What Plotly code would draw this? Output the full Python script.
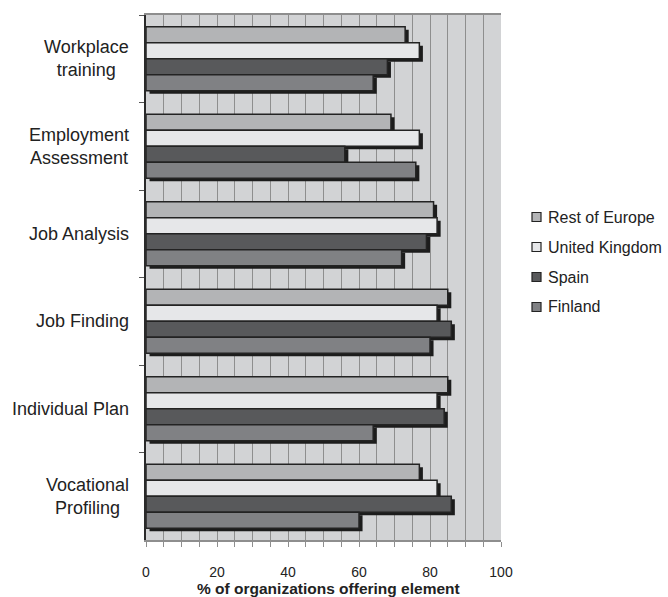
import plotly.graph_objects as go

# Survey results: share of organizations offering each element (%)
categories = [
    "Workplace training",
    "Employment Assessment",
    "Job Analysis",
    "Job Finding",
    "Individual Plan",
    "Vocational Profiling",
]
category_labels = [
    "Workplace<br>training",
    "Employment<br>Assessment",
    "Job Analysis",
    "Job Finding",
    "Individual Plan",
    "Vocational<br>Profiling",
]
series_names = ["Rest of Europe", "United Kingdom", "Spain", "Finland"]
rest_of_europe = [73, 69, 81, 85, 85, 77]
united_kingdom = [77, 77, 82, 82, 82, 82]
spain = [68, 56, 79, 86, 84, 86]
finland = [64, 76, 72, 80, 64, 60]
x_tick_values = [0, 20, 40, 60, 80, 100]

series_values = [rest_of_europe, united_kingdom, spain, finland]
fills = ["#b3b4b6", "#e6e7e9", "#58595b", "#808184"]

W, H = 668, 597
M = dict(l=146, r=167, t=15, b=57)
PLOT_W = W - M["l"] - M["r"]
PLOT_H = H - M["t"] - M["b"]

BAR_W = 0.1825          # thickness of one bar in category units
SHADOW_DX = 1.0         # drop-shadow shift along the value axis
SHADOW_DY = 0.034       # drop-shadow shift along the category axis
FONT = "Liberation Sans, Arial, sans-serif"


def px_x(px):
    """Page pixel column -> paper x."""
    return (px - M["l"]) / PLOT_W


def px_y(py):
    """Page pixel row -> paper y."""
    return (H - M["b"] - py) / PLOT_H


fig = go.Figure()

# drop shadows first, so every bar sits on top of them
for i, vals in enumerate(series_values):
    fig.add_trace(go.Bar(
        y=categories, x=vals, base=[SHADOW_DX] * len(vals),
        orientation="h", width=BAR_W, offset=(i - 2) * BAR_W + SHADOW_DY,
        marker=dict(color="#1c1c1c", line=dict(width=0)),
        showlegend=False, hoverinfo="skip",
    ))

for i, (name, vals) in enumerate(zip(series_names, series_values)):
    fig.add_trace(go.Bar(
        y=categories, x=vals, name=name, orientation="h",
        width=BAR_W, offset=(i - 2) * BAR_W,
        marker=dict(color=fills[i], line=dict(color="#232323", width=1.5)),
        showlegend=False,
    ))

# centred, multi-line category labels to the left of the axis
for cat, label in zip(categories, category_labels):
    fig.add_annotation(
        x=0, xref="paper", y=cat, yref="y", text=label,
        xanchor="right", yanchor="middle", align="center", xshift=-15,
        showarrow=False, font=dict(family=FONT, size=18, color="#222222"),
    )

fig.add_annotation(
    x=0.5, xref="paper", y=0, yref="paper", yshift=-48, xshift=5,
    text="<b>% of organizations offering element</b>",
    xanchor="center", yanchor="middle", showarrow=False,
    font=dict(family=FONT, size=15.5, color="#222222"),
)

# compact legend: small outlined swatch followed by the series name
LEG_X, LEG_Y0, LEG_DY, SW = 532, 217, 30, 9
for i, name in enumerate(series_names):
    cy = LEG_Y0 + i * LEG_DY
    fig.add_shape(
        type="rect", xref="paper", yref="paper",
        x0=px_x(LEG_X), x1=px_x(LEG_X + SW),
        y0=px_y(cy + SW / 2), y1=px_y(cy - SW / 2),
        fillcolor=fills[i], line=dict(color="#232323", width=1.2),
    )
    fig.add_annotation(
        x=px_x(LEG_X + SW + 5), xref="paper", y=px_y(cy), yref="paper",
        text=name, xanchor="left", yanchor="middle", showarrow=False,
        font=dict(family=FONT, size=16, color="#222222"),
    )

fig.update_layout(
    width=W, height=H,
    margin=dict(**M, autoexpand=False),
    paper_bgcolor="white", plot_bgcolor="#d2d3d5",
    barmode="overlay", showlegend=False,
    font=dict(family=FONT, color="#222222"),
    xaxis=dict(
        range=[0, 100], tickvals=x_tick_values,
        showgrid=True, gridcolor="#8e8e8e", gridwidth=1,
        minor=dict(dtick=5, showgrid=True, gridcolor="#8e8e8e", gridwidth=1,
                   ticks="outside", ticklen=5, tickcolor="#8e8e8e"),
        ticks="outside", ticklen=5, tickcolor="#8e8e8e",
        showline=True, linecolor="#8e8e8e", linewidth=1.5, mirror=True,
        zeroline=False, ticklabelstandoff=13,
        tickfont=dict(family=FONT, size=14, color="#222222"),
    ),
    yaxis=dict(
        type="category", categoryorder="array", categoryarray=categories,
        range=[len(categories) - 0.5, -0.5],
        showticklabels=False, showgrid=False, zeroline=False,
        ticks="outside", tickson="boundaries", ticklen=5, tickcolor="#555555",
        showline=True, linecolor="#2a2a2a", linewidth=2,
    ),
)

fig.write_html("out.html")
